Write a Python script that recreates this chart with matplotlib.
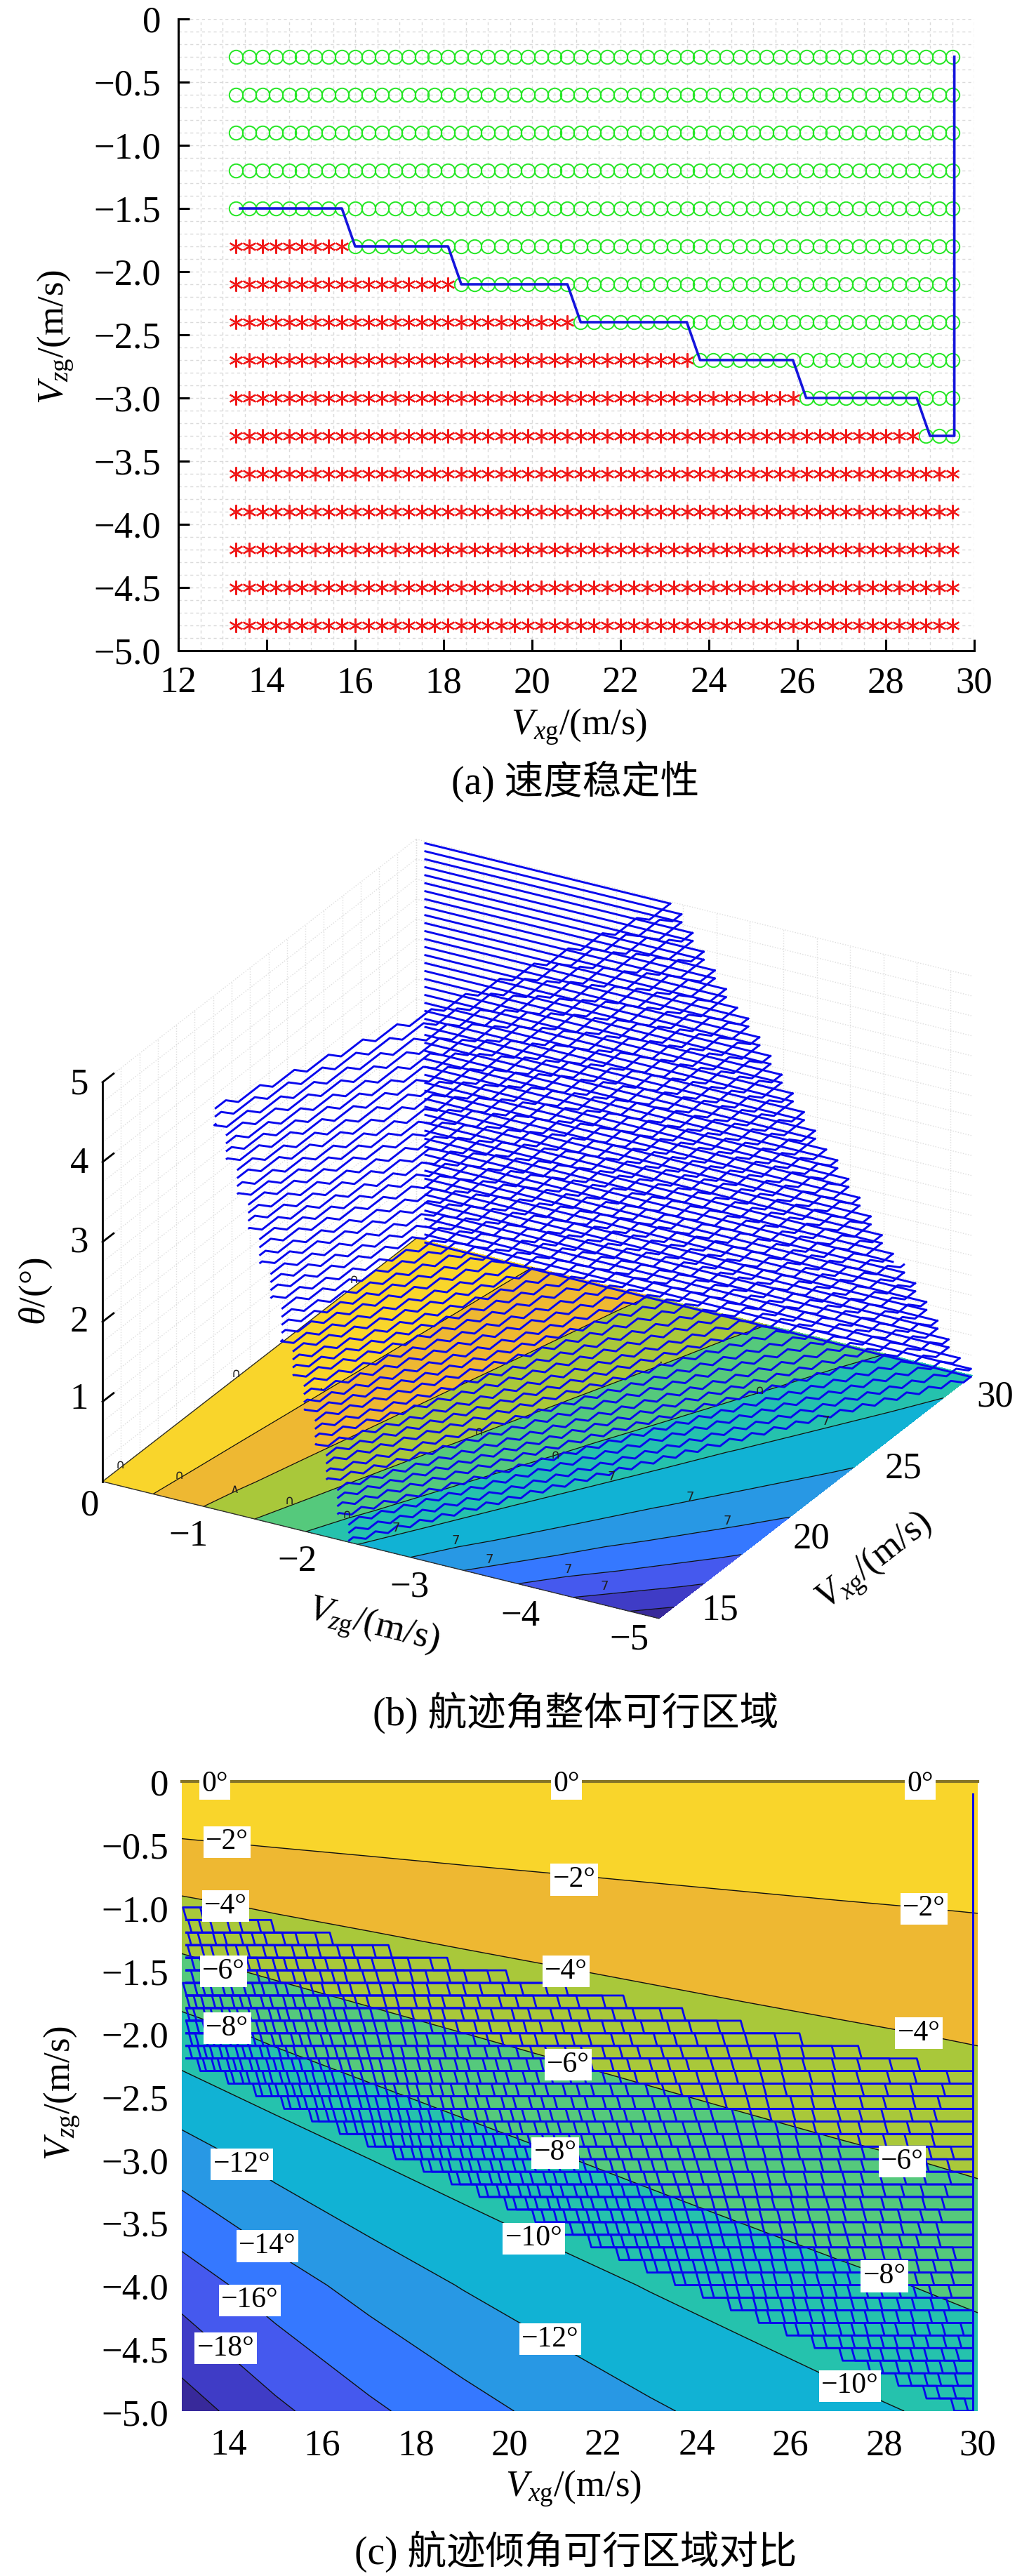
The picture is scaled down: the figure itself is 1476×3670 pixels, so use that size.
#!/usr/bin/env python3
import matplotlib
matplotlib.use('Agg')
import matplotlib.pyplot as plt
from matplotlib.transforms import ScaledTranslation
import numpy as np

plt.rcParams['font.family'] = ['Liberation Serif', 'Noto Sans CJK SC']
plt.rcParams['mathtext.fontset'] = 'custom'
plt.rcParams['mathtext.rm'] = 'Liberation Serif'
plt.rcParams['mathtext.it'] = 'Liberation Serif:italic'
plt.rcParams['axes.unicode_minus'] = True

W, H = 1476, 3670

# (a) stability grid
vx_grid = [13.3, 13.6, 13.9, 14.2, 14.5, 14.8, 15.1, 15.4, 15.7, 16.0, 16.3, 16.6, 16.9, 17.2,
           17.5, 17.8, 18.1, 18.4, 18.7, 19.0, 19.3, 19.6, 19.9, 20.2, 20.5, 20.8, 21.1, 21.4,
           21.7, 22.0, 22.3, 22.6, 22.9, 23.2, 23.5, 23.8, 24.1, 24.4, 24.7, 25.0, 25.3, 25.6,
           25.9, 26.2, 26.5, 26.8, 27.1, 27.4, 27.7, 28.0, 28.3, 28.6, 28.9, 29.2, 29.5]
vz_levels = [-0.3, -0.6, -0.9, -1.2, -1.5, -1.8, -2.1, -2.4, -2.7, -3.0, -3.3, -3.6, -3.9, -4.2, -4.5, -4.8]
first_stable_vx = [13.3, 13.3, 13.3, 13.3, 13.3, 16.0, 18.4, 21.1, 23.8, 26.2, 28.9, 99, 99, 99, 99, 99]
boundary_vx = [13.4, 15.7, 16.0, 18.1, 18.4, 20.8, 21.1, 23.5, 23.8, 25.9, 26.2, 28.7, 29.0, 29.55, 29.55]
boundary_vz = [-1.5, -1.5, -1.8, -1.8, -2.1, -2.1, -2.4, -2.4, -2.7, -2.7, -3.0, -3.0, -3.3, -3.3, -0.3]

xticks_a = [12, 14, 16, 18, 20, 22, 24, 26, 28, 30]
yticks_a = [0, -0.5, -1.0, -1.5, -2.0, -2.5, -3.0, -3.5, -4.0, -4.5, -5.0]
ylabels_a = ['0', '−0.5', '−1.0', '−1.5', '−2.0', '−2.5', '−3.0', '−3.5', '−4.0', '−4.5', '−5.0']

# flight path angle field (deg)
field_vx = [13, 15, 17, 19, 21, 23, 25, 27, 30]
field_vz = [0, -1, -2, -3, -4, -5]
field_angle = [
    [0, -4.40, -8.75, -12.99, -17.10, -21.04],
    [0, -3.81, -7.59, -11.31, -14.93, -18.43],
    [0, -3.37, -6.71, -10.01, -13.24, -16.39],
    [0, -3.01, -6.01, -8.97, -11.89, -14.74],
    [0, -2.73, -5.44, -8.13, -10.78, -13.39],
    [0, -2.49, -4.97, -7.43, -9.87, -12.26],
    [0, -2.29, -4.57, -6.84, -9.09, -11.31],
    [0, -2.12, -4.24, -6.34, -8.43, -10.49],
    [0, -1.91, -3.81, -5.71, -7.59, -9.46],
]
band_levels = [-22, -20, -18, -16, -14, -12, -10, -8, -6, -4, -2, 0]
band_colors = ['#38299A', '#3F3CC6', '#4559EE', '#3578FF', '#2898E4', '#11B2D4',
               '#25C2AD', '#55C97C', '#A9C83A', '#EEB832', '#F9D52B']
line_levels = [-20, -18, -16, -14, -12, -10, -8, -6, -4, -2]

# feasible region: for each theta, Vz at the Vx=13 side and at the Vx=30 side
theta_levels = [5.0, 4.9, 4.8, 4.7, 4.6, 4.5, 4.4, 4.3, 4.2, 4.1, 4.0, 3.9, 3.8, 3.7, 3.6, 3.5, 3.4,
                3.3, 3.2, 3.1, 3.0, 2.9, 2.8, 2.7, 2.6, 2.5, 2.4, 2.3, 2.2, 2.1, 2.0, 1.9, 1.8, 1.7,
                1.6, 1.5, 1.4, 1.3, 1.2, 1.1, 1.0, 0.9, 0.8, 0.7, 0.6, 0.5, 0.4, 0.3, 0.2, 0.1, 0.0]
vz_left = [-1.00, -1.02, -1.05, -1.07, -1.10, -1.12, -1.14, -1.17, -1.19, -1.22, -1.24, -1.26, -1.29,
           -1.31, -1.34, -1.36, -1.38, -1.41, -1.43, -1.46, -1.48, -1.50, -1.53, -1.55, -1.58, -1.60,
           -1.62, -1.65, -1.67, -1.70, -1.72, -1.74, -1.77, -1.79, -1.82, -1.84, -1.86, -1.89, -1.91,
           -1.94, -1.96, -1.98, -2.01, -2.03, -2.06, -2.08, -2.10, -2.13, -2.15, -2.18, -2.20]
vz_right = [-2.30, -2.35, -2.41, -2.46, -2.52, -2.57, -2.62, -2.68, -2.73, -2.79, -2.84, -2.89, -2.95,
            -3.00, -3.06, -3.11, -3.16, -3.22, -3.27, -3.33, -3.38, -3.43, -3.49, -3.54, -3.60, -3.65,
            -3.70, -3.76, -3.81, -3.87, -3.92, -3.97, -4.03, -4.08, -4.14, -4.19, -4.24, -4.30, -4.35,
            -4.41, -4.46, -4.51, -4.57, -4.62, -4.68, -4.73, -4.78, -4.84, -4.89, -4.95, -5.00]

# (b) tick labels
theta_ticks = [1, 2, 3, 4, 5]
b_label_text = ['1', '2', '3', '4', '5', '0', '−1', '−2', '−3', '−4', '−5', '15', '20', '25', '30']
b_label_x = [113, 113, 113, 113, 113, 128, 268, 423, 583, 741, 896, 1026, 1156, 1287, 1418]
b_label_y = [1994, 1884, 1771, 1658, 1545, 2145, 2189, 2225, 2261, 2303, 2336, 2295, 2192, 2092, 1990]
# clipped bits of contour labels that stick out of the floor
bit_text = ['∩', '∩', '∩', '∩', '∧', '∩', '∩', '∩', '∩', '∩', '7', '7', '7', '7', '7', '7', '7', '7', '7', '·', '·']
bit_x = [171, 336, 504, 255, 334, 412, 494, 682, 791, 1082, 564, 649, 697, 809, 861, 871, 983, 1036, 1176, 457, 941]
bit_y = [2087, 1957, 1823, 2102, 2122, 2138, 2158, 2040, 2073, 1981, 2177, 2195, 2222, 2236, 2260, 2104, 2133, 2167, 2025, 1980, 1942]

# (c) contour labels
c_label_text = ['0°', '0°', '0°', '−2°', '−2°', '−2°', '−4°', '−4°', '−4°', '−6°', '−6°', '−6°',
                '−8°', '−8°', '−8°', '−12°', '−14°', '−16°', '−18°', '−10°', '−12°', '−10°']
c_label_vx = [13.71, 21.22, 28.77, 13.97, 21.38, 28.85, 13.94, 21.21, 28.74, 13.89, 21.25, 28.39,
              13.97, 20.98, 28.01, 14.28, 14.83, 14.45, 13.94, 20.52, 20.87, 27.27]
c_label_vz = [-0.02, -0.02, -0.02, -0.48, -0.78, -1.01, -0.99, -1.51, -2.0, -1.51, -2.25, -3.02,
              -1.96, -2.95, -3.93, -3.04, -3.69, -4.12, -4.5, -3.63, -4.43, -4.8]
xticks_c = [14, 16, 18, 20, 22, 24, 26, 28, 30]
yticks_c = yticks_a
ylabels_c = ylabels_a

BLUE = '#0808EE'
TICK = 38
LAB = 38


def axes_px(l, t, r, b, **kw):
    return fig.add_axes([l / W, 1 - b / H, (r - l) / W, (b - t) / H], **kw)


def px_text(x, y, s, **kw):
    kw.setdefault('ha', 'center')
    kw.setdefault('va', 'center')
    fig.text(x / W, 1 - y / H, s, **kw)


def nudge_ylabels(a, px):
    # the tick labels sit a little under their ticks in the original
    for lab in a.get_yticklabels():
        lab.set_transform(lab.get_transform() + ScaledTranslation(0, -px / 100, fig.dpi_scale_trans))


def stair(vl, vr, theta):
    # stepped feasible boundary at one theta, Vz is rounded to 0.1
    span = 16.7 - 0.08 * theta
    k0 = int(round(-vl * 10))
    k1 = int(round(-vr * 10))
    xs, zs = [13.1], [-k0 / 10]
    for k in range(k0, k1):
        xe = 13.1 + span * ((k + 0.5) / 10 + vl) / (vl - vr)
        xs += [xe - 0.074, xe]
        zs += [-k / 10, -(k + 1) / 10]
    xs.append(29.9)
    zs.append(-k1 / 10)
    return xs, zs


fig = plt.figure(figsize=(W / 100, H / 100), dpi=100, facecolor='white')

# ---- (a)
ax = axes_px(254, 27, 1388, 927)
vx = np.array(vx_grid)
for lev, first in zip(vz_levels, first_stable_vx):
    stable = vx >= first - 0.01
    ax.plot(vx[~stable], [lev] * int((~stable).sum()), ls='none', marker=(6, 2, 0), ms=14.5,
            mec='#F01818', mew=1.6, zorder=3)
    ax.plot(vx[stable], [lev] * int(stable.sum()), ls='none', marker='o', ms=14, mfc='none',
            mec='#22E622', mew=1.4, zorder=3)
ax.plot(boundary_vx, boundary_vz, color='#1414DC', lw=2.6, zorder=4)
ax.set_xlim(12, 30)
ax.set_ylim(-5, 0)
ax.set_xticks(xticks_a)
ax.set_yticks(yticks_a)
ax.set_yticklabels(ylabels_a, va='center')
ax.set_xticks(np.arange(12, 30.01, 0.5), minor=True)
ax.set_yticks(np.arange(-5, 0.01, 0.1), minor=True)
ax.grid(which='both', color='#DADADA', ls=(0, (3, 3)), lw=1)
ax.set_axisbelow(True)
ax.tick_params(which='minor', length=0)
ax.tick_params(which='major', direction='in', length=11.5, width=2.2, labelsize=TICK)
ax.tick_params(axis='x', pad=16)
ax.tick_params(axis='y', pad=18)
nudge_ylabels(ax, 6)
ax.spines['top'].set_visible(False)
ax.spines['right'].set_visible(False)
ax.spines['left'].set_linewidth(2.2)
ax.spines['bottom'].set_linewidth(2.2)
px_text(825, 1036, r'$V_{x\mathrm{g}}$/(m/s)', fontsize=LAB)
px_text(80, 480, r'$V_{z\mathrm{g}}$/(m/s)', fontsize=LAB, rotation=90)
px_text(820, 1113, '(a) 速度稳定性', fontsize=40)

# ---- (b)
ax3 = fig.add_axes([51 / W, 1 - 2465.5 / H, 1392 / W, 1392 / H], projection='3d', proj_type='ortho',
                   computed_zorder=False)
ax3.view_init(elev=25.9, azim=-60.6)
ax3.set_box_aspect((1, 1, 0.695))
ax3.set_xlim(0, -5)
ax3.set_ylim(13, 30)
ax3.set_zlim(0, 5)
ax3.set_axis_off()
ax3.patch.set_alpha(0)

# dotted back walls
for v in np.arange(13, 30.01, 1.0):
    ax3.plot([0, 0], [v, v], [0, 5], color='#DEDEDE', ls=':', lw=1, zorder=1)
for v in np.arange(0, -5.01, -0.3):
    ax3.plot([v, v], [30, 30], [0, 5], color='#DEDEDE', ls=':', lw=1, zorder=1)
for v in np.arange(0, 5.01, 0.25):
    ax3.plot([0, 0], [13, 30], [v, v], color='#DEDEDE', ls=':', lw=1, zorder=1)
    ax3.plot([0, -5], [30, 30], [v, v], color='#DEDEDE', ls=':', lw=1, zorder=1)

FX, FZ = np.meshgrid(field_vz, field_vx)
ang = np.array(field_angle)
ax3.contourf(FX, FZ, ang, levels=band_levels, colors=band_colors, zdir='z', offset=0, zorder=2)
ax3.contour(FX, FZ, ang, levels=line_levels, colors='#101010', linewidths=0.9, linestyles='solid',
            zdir='z', offset=0, zorder=3)
ax3.plot([0, -5], [13, 13], [0, 0], color='#303030', lw=1, zorder=3)
ax3.plot([0, 0], [13, 30], [0, 0], color='#303030', lw=1, zorder=3)

for th, vl, vr in zip(theta_levels, vz_left, vz_right):
    xs, zs = stair(vl, vr, th)
    ax3.plot(zs, xs, [th] * len(xs), color=BLUE, lw=2.1, zorder=4)
    ax3.plot([-0.1, round(vr, 1)], [29.9, 29.9], [th, th], color=BLUE, lw=2.1, zorder=4)

ax3.plot([0, 0], [13, 13], [0, 5], color='black', lw=2, zorder=5)
for t in theta_ticks:
    ax3.plot([0, 0], [13, 13.6], [t, t], color='black', lw=2, zorder=5)

for s, x, y in zip(b_label_text, b_label_x, b_label_y):
    px_text(x, y, s, fontsize=TICK)
for s, x, y in zip(bit_text, bit_x, bit_y):
    px_text(x, y, s, fontsize=13, family='DejaVu Sans', color='#202020')
px_text(532, 2318, r'$V_{z\mathrm{g}}$/(m/s)', fontsize=LAB, rotation=-14)
px_text(1247, 2226, r'$V_{x\mathrm{g}}$/(m/s)', fontsize=LAB, rotation=38)
px_text(51, 1840, r'$\theta$/(°)', fontsize=LAB, rotation=90)
px_text(820, 2440, '(b) 航迹角整体可行区域', fontsize=40)

# ---- (c)
axc = axes_px(259, 2538, 1393, 3435)
axc.contourf(field_vx, field_vz, ang.T, levels=band_levels, colors=band_colors, zorder=1)
axc.contour(field_vx, field_vz, ang.T, levels=line_levels, colors='#101010', linewidths=1.0,
            linestyles='solid', zorder=2)
axc.axhline(0, color='#857428', lw=3, zorder=2, clip_on=False)
for th, vl, vr in zip(theta_levels, vz_left, vz_right):
    xs, zs = stair(vl, vr, th)
    axc.plot(xs, zs, color=BLUE, lw=2.0, zorder=3)
    axc.plot([29.9, 29.9], [-0.1, round(vr, 1)], color=BLUE, lw=2.0, zorder=3)
for s, x, y in zip(c_label_text, c_label_vx, c_label_vz):
    axc.text(x, y, s, fontsize=30, ha='center', va='center', zorder=5,
             bbox=dict(facecolor='white', edgecolor='none', pad=2.5))
axc.set_xlim(13, 30)
axc.set_ylim(-5, 0)
axc.set_xticks(xticks_c)
axc.set_yticks(yticks_c)
axc.set_yticklabels(ylabels_c, va='center')
axc.tick_params(length=0, labelsize=TICK)
axc.tick_params(axis='x', pad=18)
axc.tick_params(axis='y', pad=13.7)
nudge_ylabels(axc, 7)
for side in axc.spines:
    axc.spines[side].set_visible(False)
px_text(817, 3546, r'$V_{x\mathrm{g}}$/(m/s)', fontsize=LAB)
px_text(89, 2982, r'$V_{z\mathrm{g}}$/(m/s)', fontsize=LAB, rotation=90)
px_text(820, 3635, '(c) 航迹倾角可行区域对比', fontsize=40)

fig.savefig('out.png', dpi=100, facecolor='white')
